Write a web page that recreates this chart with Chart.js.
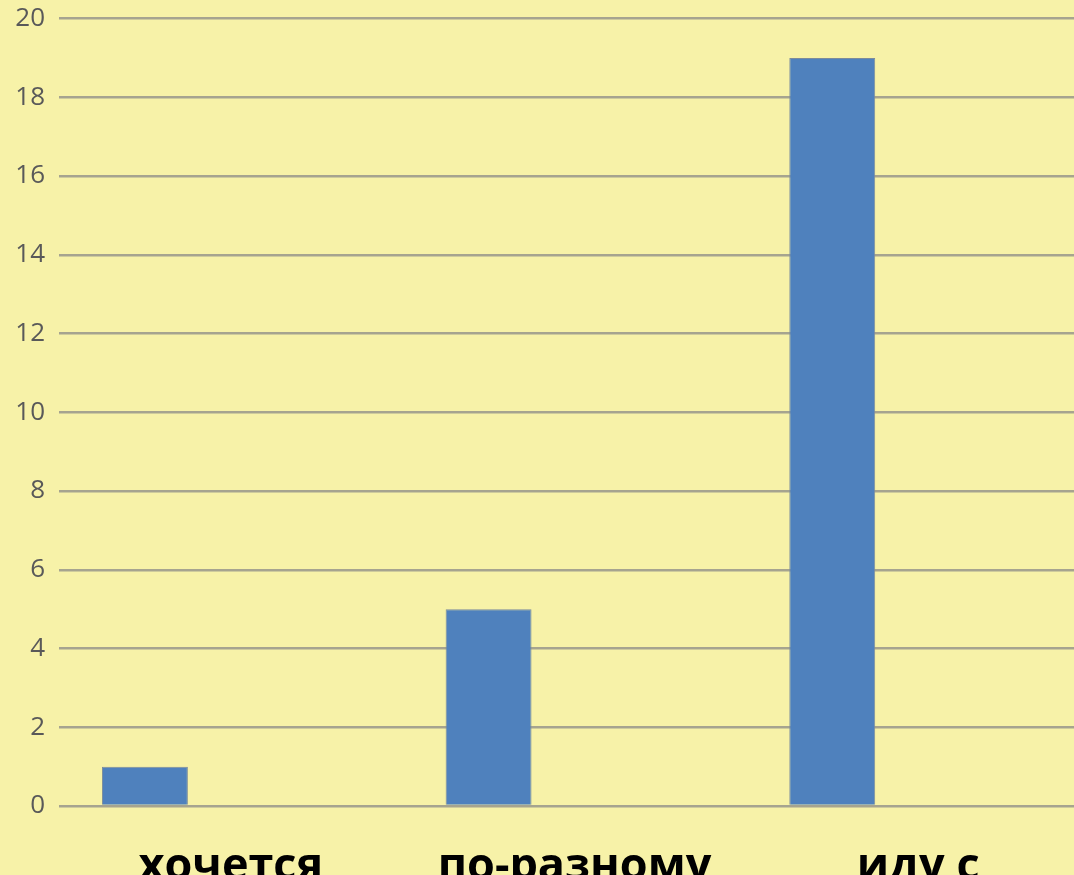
<!DOCTYPE html>
<html>
<head>
<meta charset="utf-8">
<script src="https://cdn.jsdelivr.net/npm/chart.js@4"></script>
<style>
    html, body {
        margin: 0;
        padding: 0;
        overflow: hidden;
        background: #F7F2A8;
    }
    .chart-wrap {
        width: 1090px;
        height: 911px;
        margin-top: -11px;
    }
</style>
</head>
<body>
<div class="chart-wrap">
    <canvas id="answersChart" width="1090" height="911"></canvas>
</div>
<script>
// Data
const categories = ['хочется', 'по-разному', 'иду с'];
const answerCounts = [1, 5, 19];
const emptySeries = [null, null, null];
const yTicks = [0, 2, 4, 6, 8, 10, 12, 14, 16, 18, 20];

const gridColor = '#A6A48F';

const answersChart = new Chart(
    document.getElementById('answersChart'),
    {
        type: 'bar',
        data: {
            labels: categories,
            datasets: [
                {
                    label: 'Ряд 1',
                    data: answerCounts,
                    backgroundColor: '#4F81BD',
                    borderColor: '#7C8C9C',
                    borderWidth: 1,
                    barPercentage: 0.5,
                    categoryPercentage: 1.0
                },
                {
                    label: 'Ряд 2',
                    data: emptySeries,
                    backgroundColor: '#C0504D',
                    barPercentage: 0.5,
                    categoryPercentage: 1.0
                }
            ]
        },
        options: {
            responsive: false,
            animation: false,
            layout: {
                padding: { top: 2, right: 0, left: 0, bottom: 0 }
            },
            plugins: {
                legend: { display: false },
                tooltip: { enabled: false }
            },
            scales: {
                y: {
                    min: 0,
                    max: 20,
                    afterBuildTicks: axis => {
                        axis.ticks = yTicks.map(v => ({ value: v }));
                    },
                    afterFit: axis => {
                        axis.width = 59;
                    },
                    border: { display: false },
                    grid: {
                        color: gridColor,
                        lineWidth: 2.5,
                        drawTicks: false
                    },
                    ticks: {
                        padding: 14,
                        color: '#595959',
                        font: { family: 'Open Sans', size: 26 }
                    }
                },
                x: {
                    afterFit: axis => {
                        axis.height = 94;
                    },
                    border: { display: false },
                    grid: { display: false, drawTicks: false },
                    ticks: {
                        padding: 34,
                        color: '#000000',
                        maxRotation: 0,
                        autoSkip: false,
                        font: { family: 'Open Sans', size: 45, weight: 'bold' }
                    }
                }
            }
        }
    }
);
</script>
</body>
</html>
